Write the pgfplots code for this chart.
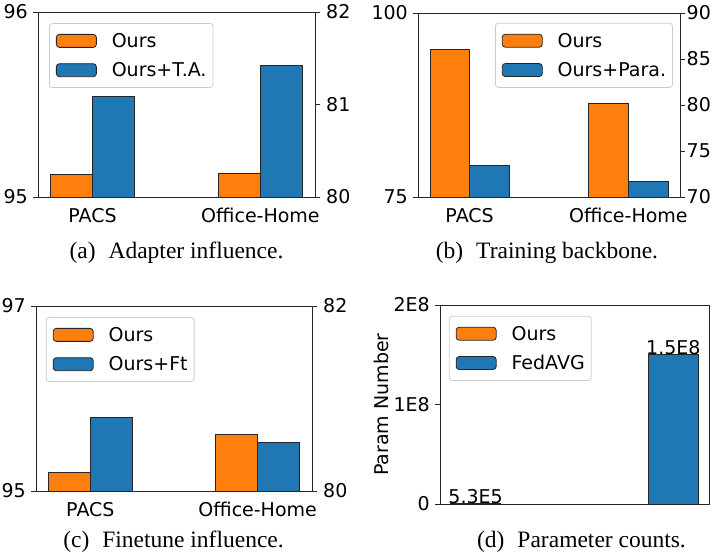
\documentclass[border=0pt]{standalone}
\usepackage{fontspec}
\setmainfont{Liberation Serif}
\newfontfamily\dejavu{DejaVu Sans}
\usepackage{pgfplots}
\pgfplotsset{compat=1.18}
\definecolor{mplblue}{HTML}{1F77B4}
\definecolor{mplorange}{HTML}{FF7F0E}
\newcommand{\pf}{\fontsize{19bp}{22bp}\selectfont\dejavu}
\newcommand{\cf}{\fontsize{23.5bp}{26bp}\selectfont}
\pgfplotsset{
  mybar/.style={ybar, bar width=0.25, bar shift=0pt, draw=black!85, line width=0.8bp,
    legend image code/.code={\draw[##1,/tikz/.cd,line width=0.8bp] (0bp,-6.5bp) rectangle (40bp,6.5bp);}},
  base/.style={
    scale only axis, anchor=south west,
    xmin=-0.325, xmax=1.325,
    axis line style={black!85, line width=0.9bp},
    tick align=outside, major tick length=5bp,
    tick style={black!85, line width=0.9bp},
    /pgf/number format/assume math mode=true,
    tick label style={font=\pf, inner sep=0pt},
    xtick={0,1}, xticklabels={PACS,Office-Home},
    xtick style={draw=none},
    xticklabel style={anchor=base, yshift=-21bp},
    scaled y ticks=false,
  },
  leftax/.style={base, ytick pos=left, yticklabel style={anchor=east, xshift=-5bp}},
  rightax/.style={base, hide x axis, axis y line*=right, ytick pos=right, yticklabel pos=right, yticklabel style={anchor=west, xshift=#1}},
  rightax/.default=6bp,
  leg/.style={legend style={font=\pf, draw=black!20, line width=0.8bp, rounded corners=3bp, fill=white, inner xsep=6.5bp, inner ysep=10.5bp, row sep=15.5bp, column sep=15bp, nodes={inner sep=0pt, text height=13bp, text depth=0pt}}, legend cell align=left},
}
\begin{document}
\begin{tikzpicture}
\useasboundingbox (0,0) rectangle (713bp,556bp);
% (a)
\begin{axis}[leftax, leg, at={(38bp,359bp)}, width=277bp, height=185bp, ymin=95, ymax=96, ytick={95,96}, legend style={at={(0.04,0.94)}, anchor=north west}]
\addplot[mybar, fill=mplorange] coordinates {(-0.125,95.124)};
\addlegendentry{Ours}
\addplot[mybar, fill=mplblue] coordinates {(0.125,95.546)};
\addlegendentry{Ours+T.A.}
\end{axis}
\begin{axis}[rightax, at={(38bp,359bp)}, width=277bp, height=185bp, ymin=80, ymax=82, ytick={80,81,82}]
\addplot[mybar, fill=mplorange] coordinates {(0.875,80.256)};
\addplot[mybar, fill=mplblue] coordinates {(1.125,81.42)};
\end{axis}
\node[font=\cf, anchor=base] at (176.5bp,297bp) {(a)\hspace{0.55em}Adapter influence.};
% (b)
\begin{axis}[leftax, leg, at={(418bp,359bp)}, width=262bp, height=184bp, ymin=75, ymax=100, ytick={75,100}, legend style={at={(0.973,0.946)}, anchor=north east}]
\addplot[mybar, fill=mplorange] coordinates {(-0.125,95.1)};
\addlegendentry{Ours}
\addplot[mybar, fill=mplblue] coordinates {(0.125,79.25)};
\addlegendentry{Ours+Para.}
\end{axis}
\begin{axis}[rightax=1.5bp, at={(418bp,359bp)}, width=262bp, height=184bp, ymin=70, ymax=90, ytick={70,75,80,85,90}]
\addplot[mybar, fill=mplorange] coordinates {(0.875,80.18)};
\addplot[mybar, fill=mplblue] coordinates {(1.125,71.66)};
\end{axis}
\node[font=\cf, anchor=base] at (547bp,297bp) {(b)\hspace{0.55em}Training backbone.};
% (c)
\begin{axis}[leftax, leg, at={(36bp,65bp)}, width=276bp, height=185bp, ymin=95, ymax=97, ytick={95,97}, legend style={at={(0.036,0.94)}, anchor=north west}]
\addplot[mybar, fill=mplorange] coordinates {(-0.125,95.2)};
\addlegendentry{Ours}
\addplot[mybar, fill=mplblue] coordinates {(0.125,95.8)};
\addlegendentry{Ours+Ft}
\end{axis}
\begin{axis}[rightax, at={(36bp,65bp)}, width=276bp, height=185bp, ymin=80, ymax=82, ytick={80,82}]
\addplot[mybar, fill=mplorange] coordinates {(0.875,80.61)};
\addplot[mybar, fill=mplblue] coordinates {(1.125,80.52)};
\end{axis}
\node[font=\cf, anchor=base] at (173.5bp,9bp) {(c)\hspace{0.55em}Finetune influence.};
% (d)
\begin{axis}[leftax, leg, at={(440bp,52bp)}, width=269bp, height=199bp, xmin=-0.18, xmax=1.18, xtick=\empty, ymin=0, ymax=2e8, ytick={0,1e8,2e8}, yticklabels={0,1E8,2E8},
  ylabel={Param Number}, ylabel style={font=\pf, at={(rel axis cs:-0.193,0.5)}, anchor=base, inner sep=0pt},
  legend style={at={(0.033,0.945)}, anchor=north west}]
\addplot[mybar, fill=mplorange, nodes near coords, point meta=explicit symbolic, nodes near coords style={font=\pf, black, inner sep=0pt, text depth=0pt, anchor=south}] coordinates {(0,5.3e5) [5.3E5]};
\addlegendentry{Ours}
\addplot[mybar, fill=mplblue, nodes near coords, point meta=explicit symbolic, nodes near coords style={font=\pf, black, inner sep=0pt, text depth=0pt, anchor=south}] coordinates {(1,1.5e8) [1.5E8]};
\addlegendentry{FedAVG}
\end{axis}
\node[font=\cf, anchor=base] at (581.5bp,9bp) {(d)\hspace{0.55em}Parameter counts.};
\end{tikzpicture}
\end{document}
